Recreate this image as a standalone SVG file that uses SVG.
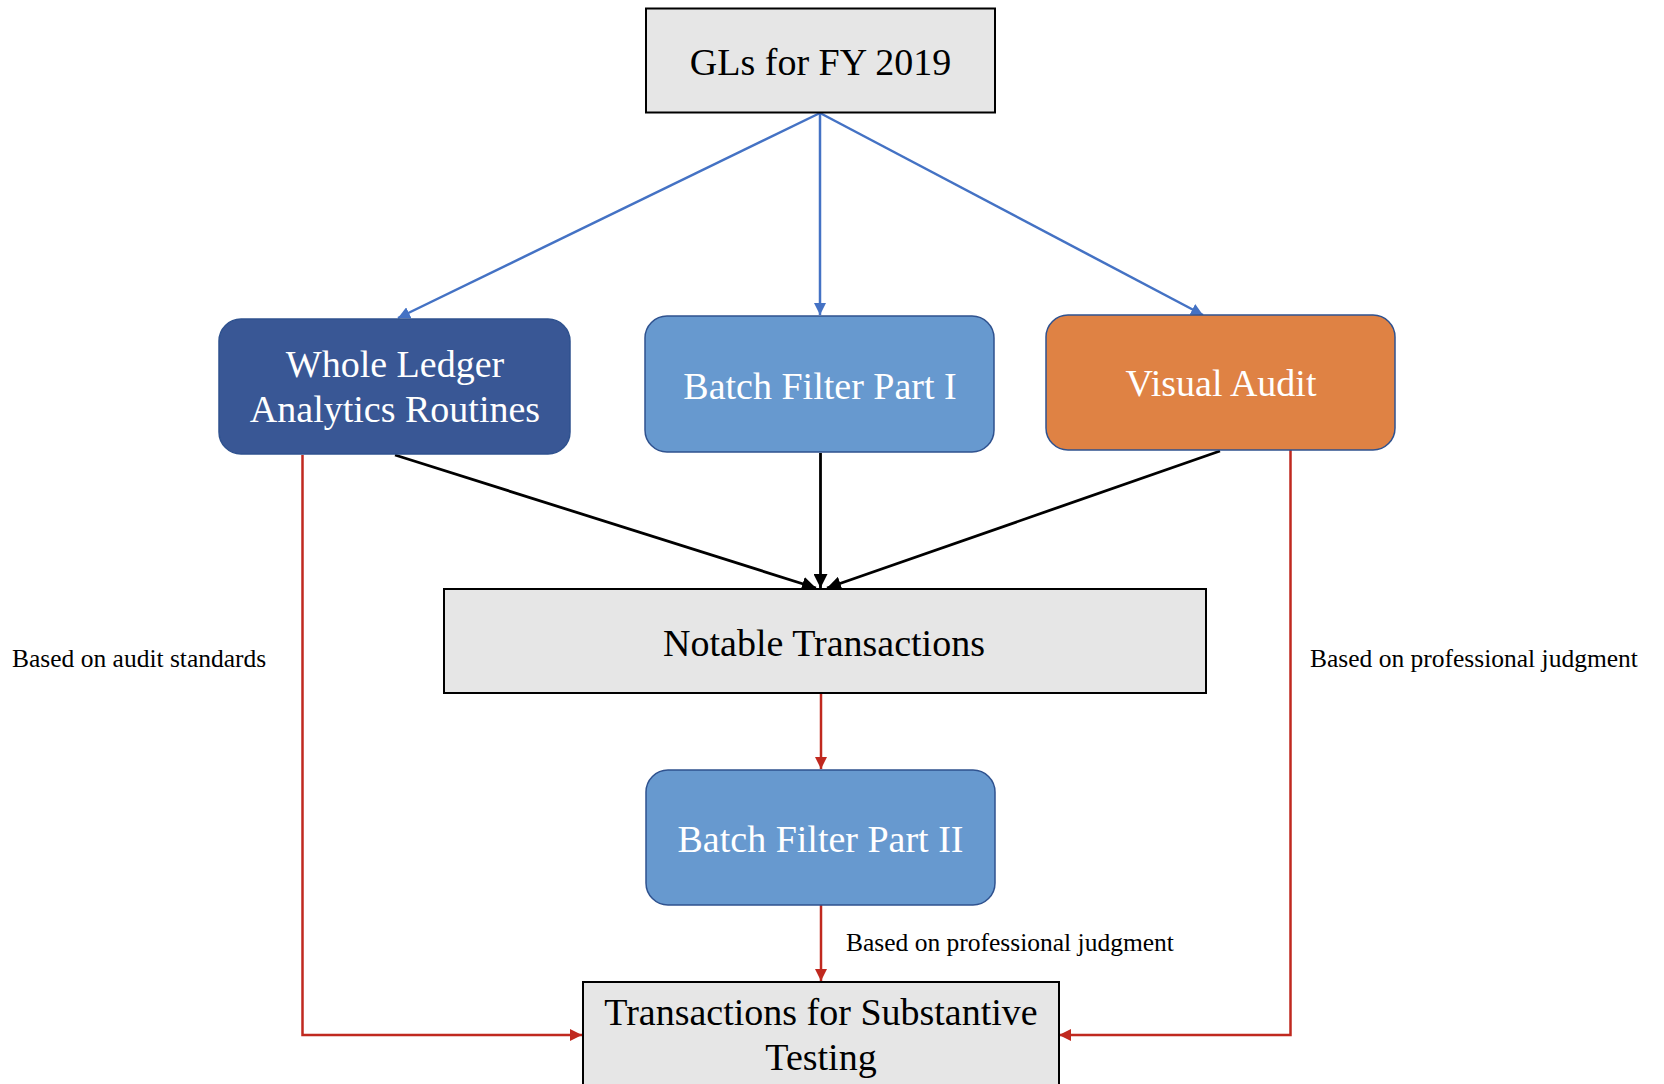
<svg xmlns="http://www.w3.org/2000/svg" width="1664" height="1084" viewBox="0 0 1664 1084">
<style>
.t{font-family:"Liberation Serif","Times New Roman",serif;text-anchor:middle}
.big{font-size:38px}
.lbl{font-family:"Liberation Serif","Times New Roman",serif;font-size:25.5px;fill:#000}
.gray{fill:#E6E6E6;stroke:#000;stroke-width:2}
.round{stroke:#2F528F;stroke-width:1.5}
.blue{stroke:#4472C4;stroke-width:2.5;fill:none}
.black{stroke:#000;stroke-width:2.8;fill:none}
.red{stroke:#C0291F;stroke-width:2.5;fill:none}
</style>
<defs>
<marker id="ab" markerUnits="userSpaceOnUse" markerWidth="14" markerHeight="12" refX="12" refY="6" orient="auto"><path d="M0,0 L12,6 L0,12 Z" fill="#4472C4"/></marker>
<marker id="ak" markerUnits="userSpaceOnUse" markerWidth="16" markerHeight="14" refX="14" refY="7" orient="auto"><path d="M0,0 L14,7 L0,14 Z" fill="#000"/></marker>
<marker id="ar" markerUnits="userSpaceOnUse" markerWidth="14" markerHeight="12" refX="12" refY="6" orient="auto"><path d="M0,0 L12,6 L0,12 Z" fill="#C0291F"/></marker>
</defs>
<rect width="1664" height="1084" fill="#fff"/>
<g id="connectors">
<line class="blue" x1="820" y1="113" x2="398" y2="318" marker-end="url(#ab)"/>
<line class="blue" x1="820" y1="113" x2="820" y2="315" marker-end="url(#ab)"/>
<line class="blue" x1="820" y1="113" x2="1203" y2="315" marker-end="url(#ab)"/>
<line class="black" x1="395" y1="455" x2="816" y2="588" marker-end="url(#ak)"/>
<line class="black" x1="820.5" y1="453" x2="820.5" y2="588" marker-end="url(#ak)"/>
<line class="black" x1="1220" y1="451" x2="827" y2="588" marker-end="url(#ak)"/>
<line class="red" x1="821" y1="693" x2="821" y2="769" marker-end="url(#ar)"/>
<line class="red" x1="821" y1="905" x2="821" y2="981" marker-end="url(#ar)"/>
<polyline class="red" points="302.5,455 302.5,1035 582,1035" marker-end="url(#ar)"/>
<polyline class="red" points="1290.5,450 1290.5,1035 1059,1035" marker-end="url(#ar)"/>
</g>
<g id="node-gls">
<rect class="gray" x="646" y="8.5" width="349" height="104"/>
<text class="t big" x="820.5" y="75">GLs for FY 2019</text>
</g>
<g id="node-whole-ledger">
<rect class="round" x="219" y="319" width="351" height="135" rx="22" fill="#395795"/>
<text class="t big" x="395" y="377" fill="#fff">Whole Ledger</text>
<text class="t big" x="395" y="422" fill="#fff">Analytics Routines</text>
</g>
<g id="node-batch1">
<rect class="round" x="645" y="316" width="349" height="136" rx="22" fill="#6799CF"/>
<text class="t big" x="820" y="399" fill="#fff">Batch Filter Part I</text>
</g>
<g id="node-visual">
<rect class="round" x="1046" y="315" width="349" height="135" rx="22" fill="#DF8244"/>
<text class="t big" x="1221" y="396" fill="#fff">Visual Audit</text>
</g>
<g id="node-notable">
<rect class="gray" x="444" y="589" width="762" height="104"/>
<text class="t big" x="824" y="656">Notable Transactions</text>
</g>
<g id="node-batch2">
<rect class="round" x="646" y="770" width="349" height="135" rx="22" fill="#6799CF"/>
<text class="t big" x="820.5" y="852" fill="#fff">Batch Filter Part II</text>
</g>
<g id="node-substantive">
<rect class="gray" x="583" y="982" width="476" height="120"/>
<text class="t big" x="821" y="1025">Transactions for Substantive</text>
<text class="t big" x="821" y="1070">Testing</text>
</g>
<g id="labels">
<text class="lbl" x="12" y="667">Based on audit standards</text>
<text class="lbl" x="1310" y="667">Based on professional judgment</text>
<text class="lbl" x="846" y="951">Based on professional judgment</text>
</g>
</svg>
